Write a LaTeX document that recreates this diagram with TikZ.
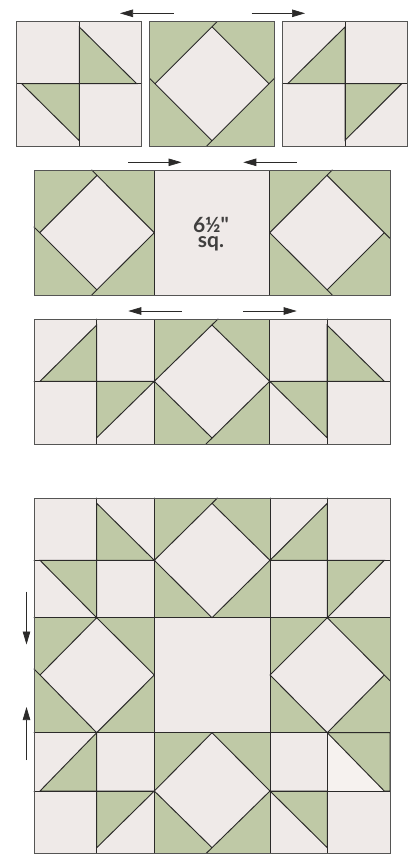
\documentclass[tikz,border=0pt]{standalone}
\usepackage{fontspec}
\newfontfamily\labfont{Lato}
\usetikzlibrary{arrows.meta}
\definecolor{lightcloth}{HTML}{EFEAE8}
\definecolor{palecloth}{HTML}{F6F2EF}
\definecolor{sage}{HTML}{BFC9A6}
\definecolor{ink}{HTML}{2B2A29}
\tikzset{
  x=1pt,y=-1pt,
  patch/.style={fill=lightcloth,draw=ink,line width=0.95pt},
  bare/.style={fill=lightcloth,draw=none},
  greenpatch/.style={fill=sage,draw=ink,line width=0.95pt},
  seam/.style={draw=ink,line width=0.95pt,line cap=round,line join=round},
  frame/.style={draw=ink!80,line width=0.95pt},
  press/.style={draw=ink,line width=0.7pt,-{Triangle[length=13pt,width=7.5pt]}},
  sizelabel/.style={font=\labfont\bfseries\fontsize{21}{15}\selectfont,text=ink!90,align=center,inner sep=0pt}
}
\begin{document}
\begin{tikzpicture}
\useasboundingbox (0,0) rectangle (416,855);
\fill[white] (0,0) rectangle (416,855);

% ---------- top row ----------
\path[patch] (16.7,21.7) rectangle (141.7,146);
\path[greenpatch] (79.3,27) -- (136.7,83.7) -- (79.3,83.7) -- cycle;
\path[greenpatch] (21.7,83.7) -- (79.3,83.7) -- (79.3,140.7) -- cycle;
\draw[seam] (79.3,21.7) -- (79.3,146) (16.7,83.7) -- (141.7,83.7);
\draw[frame] (16.7,21.7) rectangle (141.7,146);
\path[greenpatch] (149.7,21.7) rectangle (274.7,146);
\path[bare] (212,26.7) -- (269,83.7) -- (212,140.7) -- (155,83.7) -- cycle;
\draw[seam] (155,83.7) -- (217,21.7) (206.7,146) -- (274.7,78) (149.7,78.4) -- (212,140.7) (212,26.7) -- (269,83.7);
\draw[frame] (149.7,21.7) rectangle (274.7,146);
\path[patch] (282.3,21.7) rectangle (407.3,146);
\path[greenpatch] (287.7,83.7) -- (345,27) -- (345,83.7) -- cycle;
\path[greenpatch] (345,83.7) -- (401.7,83.7) -- (345,140.3) -- cycle;
\draw[seam] (345,21.7) -- (345,146) (282.3,83.7) -- (407.3,83.7);
\draw[frame] (282.3,21.7) rectangle (407.3,146);
\coordinate (a1s) at (173.5,13.3); \coordinate (a1e) at (120,13.3);
\coordinate (a2s) at (251.7,13.3); \coordinate (a2e) at (305,13.3);
\draw[press] (a1s) -- (a1e);
\draw[press] (a2s) -- (a2e);

% ---------- second row ----------
\path[greenpatch] (34,170) rectangle (154.3,295);
\path[bare] (97,175.4) -- (154.3,232.7) -- (97,290) -- (39.7,232.7) -- cycle;
\draw[seam] (91.7,170) -- (154.3,232.7) -- (91.7,295) (34,227) -- (97,290) (39.7,232.7) -- (97,175.4);
\path[greenpatch] (269.7,170) rectangle (390,295);
\path[bare] (327,175.4) -- (384.3,232.7) -- (327,290) -- (269.7,232.7) -- cycle;
\draw[seam] (332.3,170) -- (269.7,232.7) -- (332.3,295) (327,175.4) -- (390,238.4) (327,290) -- (384.3,232.7);
\path[patch] (154.3,170) rectangle (269.7,295);
\draw[frame] (34,170) rectangle (390,295);
\node[sizelabel] (lab) at (211,234) {6½"\\sq.};
\coordinate (b1s) at (128.3,162.3); \coordinate (b1e) at (181.5,162.3);
\coordinate (b2s) at (296.7,162.3); \coordinate (b2e) at (243.3,162.3);
\draw[press] (b1s) -- (b1e);
\draw[press] (b2s) -- (b2e);

% ---------- third row ----------
\path[patch] (34,319) rectangle (390,444);
\path[greenpatch] (154.3,319) rectangle (269.7,444);
\path[bare] (212,325) -- (269.7,381.3) -- (212,438) -- (154.3,381.3) -- cycle;
\path[greenpatch] (40,381.3) -- (96.7,325) -- (96.7,381.3) -- cycle;
\path[greenpatch] (96.7,381.3) -- (154.3,381.3) -- (96.7,437.7) -- cycle;
\path[greenpatch] (269.7,381.3) -- (327,381.3) -- (327,437.7) -- cycle;
\path[greenpatch] (327,325) -- (384.3,381.3) -- (327,381.3) -- cycle;
\draw[seam] (154.3,381.3) -- (218,319) (206,444) -- (269.7,381.3) -- (212,325) (154.3,381.3) -- (212,438);
\draw[seam] (96.7,319) -- (96.7,444) (327,319) -- (327,444) (34,381.3) -- (154.3,381.3) (269.7,381.3) -- (390,381.3);
\draw[frame] (34,319) rectangle (390,444);
\coordinate (c1s) at (181.5,311); \coordinate (c1e) at (128.3,311);
\coordinate (c2s) at (243.3,311); \coordinate (c2e) at (296.7,311);
\draw[press] (c1s) -- (c1e);
\draw[press] (c2s) -- (c2e);

% ---------- finished block ----------
\path[patch] (34,498) rectangle (390,853.3);
\path[greenpatch] (154.3,498) rectangle (270,617.7);
\path[bare] (212,503.3) -- (270,560.3) -- (212,617.7) -- (154.3,560.3) -- cycle;
\path[greenpatch] (154.3,732.7) rectangle (270,853.3);
\path[bare] (212,732.7) -- (270,791) -- (212,847.7) -- (154.3,791) -- cycle;
\path[greenpatch] (34,617.7) rectangle (154.3,732.7);
\path[bare] (96.7,617.7) -- (154.3,675) -- (96.7,732.7) -- (40,675) -- cycle;
\path[greenpatch] (270,617.7) rectangle (390,732.7);
\path[bare] (327.3,617.7) -- (384.3,675) -- (327.3,732.7) -- (270,675) -- cycle;
\path[greenpatch] (96.7,503.3) -- (154.3,560.3) -- (96.7,560.3) -- cycle;
\path[greenpatch] (270,560.3) -- (327.3,503.3) -- (327.3,560.3) -- cycle;
\path[greenpatch] (40,560.3) -- (96.7,560.3) -- (96.7,617.7) -- cycle;
\path[greenpatch] (327.3,560.3) -- (384.3,560.3) -- (327.3,617.7) -- cycle;
\path[greenpatch] (40,791) -- (96.7,732.7) -- (96.7,791) -- cycle;
\path[fill=palecloth] (327.3,732.7) -- (384.3,791) -- (327.3,791) -- cycle;
\path[greenpatch] (327.3,732.7) -- (390,732.7) -- (390,791) -- (384.3,791) -- cycle;
\path[greenpatch] (96.7,791) -- (154.3,791) -- (96.7,847.7) -- cycle;
\path[greenpatch] (270,791) -- (327.3,791) -- (327.3,847.7) -- cycle;
% seams
\draw[seam] (96.7,498) -- (96.7,617.7) (96.7,732.7) -- (96.7,853.3)
  (327.3,498) -- (327.3,617.7) (327.3,732.7) -- (327.3,853.3)
  (154.3,498) -- (154.3,853.3) (270,498) -- (270,853.3);
\draw[seam] (34,560.3) -- (154.3,560.3) (270,560.3) -- (390,560.3)
  (34,617.7) -- (390,617.7) (34,732.7) -- (390,732.7)
  (34,791) -- (154.3,791) (270,791) -- (390,791);
\draw[seam] (154.3,560.3) -- (217.4,498) (212,503.3) -- (270,560.3) -- (212,617.7) -- (154.3,560.3);
\draw[seam] (212,732.7) -- (270,791) -- (206.3,853.3) (154.3,791) -- (212,847.7) (154.3,791) -- (212,732.7);
\draw[seam] (96.7,617.7) -- (154.3,675) -- (96.7,732.7) -- (34,668.9) (96.7,617.7) -- (40,675);
\draw[seam] (327.3,617.7) -- (390,680.7) (384.3,675) -- (327.3,732.7) -- (270,675) -- (327.3,617.7);
\draw[frame] (34,498) rectangle (390,853.3);
\coordinate (d1s) at (26.5,591.7); \coordinate (d1e) at (26.5,644.5);
\coordinate (d2s) at (26.5,760); \coordinate (d2e) at (26.5,707);
\draw[press] (d1s) -- (d1e);
\draw[press] (d2s) -- (d2e);
\end{tikzpicture}
\end{document}
